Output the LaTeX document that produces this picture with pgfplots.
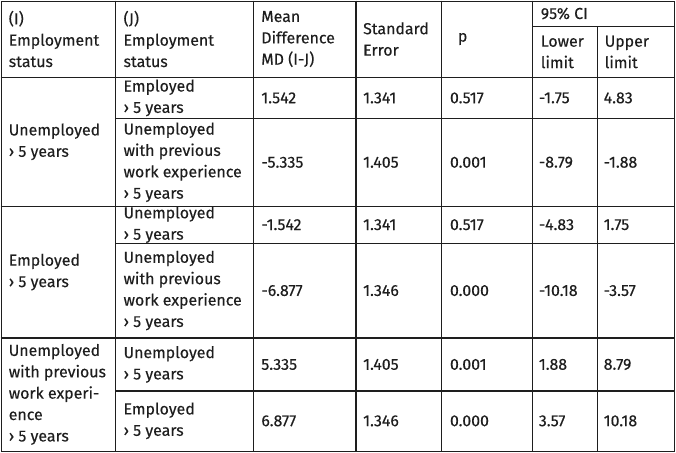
\documentclass[border=0pt]{standalone}
\usepackage{fontspec}
\setmainfont{Fira Sans}[FakeBold=0.3,BoldFont={Fira Sans}]
\usepackage{pgfplots}
\pgfplotsset{compat=1.18}
\definecolor{ink}{HTML}{1E1E1E}
\newcommand{\cell}[3]{\node[anchor=west,align=left,inner sep=0pt,text=ink,font=\fontsize{16}{21.5}\selectfont\bfseries] at (axis cs:#1,#2) {#3};}
\begin{document}
\begin{tikzpicture}
\begin{axis}[width=676bp,height=452bp,scale only axis,xmin=0,xmax=676,ymin=0,ymax=452,y dir=reverse,hide axis,clip=false]
\path (axis cs:0,0) rectangle (axis cs:676,452);
\begin{scope}[line width=1.2bp,draw=ink]
\draw (axis cs:0.6,0.6) rectangle (axis cs:675.4,451.4);
\draw (axis cs:0,77) -- (axis cs:676,77);
\draw (axis cs:533,26) -- (axis cs:676,26);
\draw (axis cs:115,118) -- (axis cs:676,118);
\draw (axis cs:0,206) -- (axis cs:676,206);
\draw (axis cs:115,243) -- (axis cs:676,243);
\draw (axis cs:0,338) -- (axis cs:676,338);
\draw (axis cs:115,391) -- (axis cs:676,391);
\draw (axis cs:115,0) -- (axis cs:115,452);
\draw (axis cs:253,0) -- (axis cs:253,452);
\draw (axis cs:356,0) -- (axis cs:356,452);
\draw (axis cs:442,0) -- (axis cs:442,452);
\draw (axis cs:533,0) -- (axis cs:533,452);
\draw (axis cs:598,26) -- (axis cs:598,452);
\end{scope}
% header
\cell{8}{38.5}{(I)\\Employment\\status}
\cell{123}{38.5}{(J)\\Employment\\status}
\cell{261}{38.5}{Mean\\Difference\\MD (I-J)}
\cell{363}{38.5}{Standard\\Error}
\cell{458}{38.5}{p}
\cell{541}{13}{95\% CI}
\cell{541}{51.5}{Lower\\limit}
\cell{605}{51.5}{Upper\\limit}
% group 1
\cell{8}{141.5}{Unemployed\\› 5 years}
\cell{123}{97.5}{Employed\\› 5 years}
\cell{261}{97.5}{1.542}
\cell{363}{97.5}{1.341}
\cell{450}{97.5}{0.517}
\cell{539}{97.5}{-1.75}
\cell{604}{97.5}{4.83}
\cell{123}{162}{Unemployed\\with previous\\work experience\\› 5 years}
\cell{261}{162}{-5.335}
\cell{363}{162}{1.405}
\cell{450}{162}{0.001}
\cell{539}{162}{-8.79}
\cell{604}{162}{-1.88}
% group 2
\cell{8}{272}{Employed\\› 5 years}
\cell{123}{224.5}{Unemployed\\› 5 years}
\cell{261}{224.5}{-1.542}
\cell{363}{224.5}{1.341}
\cell{450}{224.5}{0.517}
\cell{539}{224.5}{-4.83}
\cell{604}{224.5}{1.75}
\cell{123}{290.5}{Unemployed\\with previous\\work experience\\› 5 years}
\cell{261}{290.5}{-6.877}
\cell{363}{290.5}{1.346}
\cell{450}{290.5}{0.000}
\cell{539}{290.5}{-10.18}
\cell{604}{290.5}{-3.57}
% group 3
\cell{8}{394.5}{Unemployed\\with previous\\work experi-\\ence\\› 5 years}
\cell{123}{364.5}{Unemployed\\› 5 years}
\cell{261}{364.5}{5.335}
\cell{363}{364.5}{1.405}
\cell{450}{364.5}{0.001}
\cell{539}{364.5}{1.88}
\cell{604}{364.5}{8.79}
\cell{123}{421}{Employed\\› 5 years}
\cell{261}{421}{6.877}
\cell{363}{421}{1.346}
\cell{450}{421}{0.000}
\cell{539}{421}{3.57}
\cell{604}{421}{10.18}
\end{axis}
\end{tikzpicture}
\end{document}
